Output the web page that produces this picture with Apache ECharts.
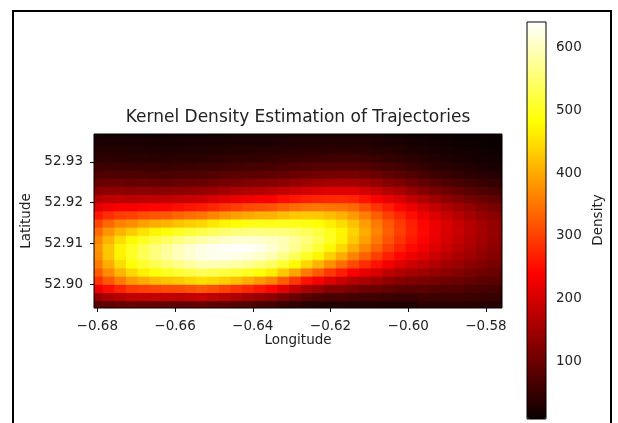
<!DOCTYPE html>
<html><head><meta charset="utf-8">
<script src="https://cdn.jsdelivr.net/npm/echarts@6/dist/echarts.min.js"></script>
<style>html,body{margin:0;padding:0;background:#fff}#c{width:618px;height:423px}</style>
</head><body><div id="c"></div>
<script>
// Cell centres of the density grid
const lonCenters = [-0.680,-0.677,-0.674,-0.671,-0.668,-0.665,-0.662,-0.659,-0.656,-0.653,-0.650,-0.647,-0.644,-0.641,-0.638,-0.635,-0.632,-0.629,-0.626,-0.623,-0.620,-0.617,-0.614,-0.611,-0.608,-0.605,-0.602,-0.599,-0.596,-0.593,-0.590,-0.587,-0.584,-0.581,-0.578,-0.575];
const latCenters = [52.895,52.897,52.899,52.901,52.903,52.905,52.907,52.909,52.911,52.913,52.915,52.917,52.919,52.921,52.923,52.925,52.927,52.929,52.931,52.933,52.935,52.937];
// Density: one list per longitude column, south -> north
const densityByLon = [
[83,142,223,286,326,355,373,378,366,340,306,261,212,167,127,96,72,55,41,32,24,19],
[90,158,250,323,370,403,424,427,410,378,337,283,226,175,132,98,74,56,42,31,24,18],
[95,170,273,356,410,447,469,471,448,410,361,297,233,178,133,98,72,55,41,31,23,18],
[100,181,294,385,442,483,505,503,475,431,372,302,234,173,129,94,70,52,38,29,22,17],
[97,182,300,400,465,510,535,533,502,454,389,313,240,178,130,95,70,52,38,29,22,17],
[96,182,306,414,485,532,559,558,523,472,402,320,244,179,129,94,69,51,37,28,21,16],
[94,182,309,423,500,550,579,577,541,486,410,324,244,178,128,92,68,50,36,27,20,15],
[91,179,310,431,513,567,598,597,559,502,424,335,252,184,132,95,70,51,38,28,21,16],
[94,183,317,441,526,582,613,612,573,515,434,343,259,188,135,97,72,53,38,29,22,16],
[96,187,324,450,536,593,625,624,584,525,442,350,264,192,138,99,73,54,39,29,22,16],
[90,179,314,443,531,593,630,632,596,538,458,365,276,202,144,105,77,56,41,31,23,17],
[85,170,301,433,523,590,629,637,605,549,472,378,288,210,151,110,81,58,43,32,24,18],
[80,162,288,419,513,584,625,638,611,556,483,390,297,218,158,114,83,61,44,33,25,19],
[75,151,274,403,500,574,618,637,612,561,492,399,307,226,165,118,86,63,46,34,26,19],
[69,141,258,384,484,559,607,629,609,562,495,406,313,232,169,121,88,64,47,35,26,20],
[62,130,242,363,464,541,591,615,602,558,494,409,318,236,172,124,90,65,48,35,27,20],
[53,113,214,327,430,512,566,595,594,556,498,420,331,249,182,130,94,69,51,37,28,20],
[45,96,185,291,395,477,537,571,578,549,496,427,341,260,190,136,98,73,53,38,29,22],
[37,82,159,255,355,441,505,543,559,537,491,431,348,268,198,143,103,76,55,40,30,22],
[34,73,143,230,324,408,471,513,533,521,482,427,352,273,205,148,106,78,56,42,30,22],
[31,66,126,207,291,373,436,477,500,498,465,417,350,276,209,152,109,78,58,42,31,23],
[35,68,123,188,265,341,401,442,468,471,447,405,347,277,211,154,110,80,59,43,31,23],
[33,62,111,169,236,307,363,403,429,439,422,385,337,272,209,154,111,81,59,43,31,23],
[32,59,104,157,217,280,330,367,390,402,388,357,314,256,198,147,106,76,56,41,30,22],
[32,59,99,147,200,255,299,332,353,364,354,328,289,237,183,136,98,70,51,37,27,20],
[30,55,92,134,179,230,268,298,318,328,323,299,265,218,169,125,90,65,47,34,24,18],
[29,52,86,124,165,208,243,270,288,298,295,275,244,203,157,117,83,60,43,31,23,17],
[29,51,84,117,155,192,222,246,261,270,268,249,221,182,140,104,74,52,38,27,20,14],
[38,58,83,113,147,179,206,225,239,246,244,226,200,165,126,93,66,47,34,24,17,12],
[38,56,79,108,138,166,189,206,218,224,222,206,182,148,113,83,59,41,30,21,15,11],
[39,56,78,103,130,154,174,189,199,205,203,187,165,134,102,74,52,37,26,19,13,10],
[38,55,75,98,122,143,160,173,182,187,185,171,150,121,92,66,46,32,23,17,12,8],
[38,53,71,92,113,131,147,158,165,170,168,155,136,109,82,59,41,29,21,15,10,7],
[37,51,67,87,105,121,135,144,151,155,153,141,123,99,74,52,36,25,18,13,9,7],
[36,49,64,82,98,112,123,132,138,141,139,129,112,90,67,48,33,23,16,12,8,6],
[33,45,59,75,90,102,113,121,126,129,128,118,103,82,62,44,30,21,15,11,8,5]
];
const xTicks = [-0.68,-0.66,-0.64,-0.62,-0.60,-0.58];
const yTicks = [52.90,52.91,52.92,52.93];
const densityTicks = [100,200,300,400,500,600];
const lonRange = [-0.68085,-0.57588];
const latRange = [52.89419,52.93684];
const densityRange = [8,641];
const titleText = 'Kernel Density Estimation of Trajectories';

const FONT = 'DejaVu Sans';
const TXT = '#222';
const FS = 13.5;

function hot(t){
  const r = Math.min(1, 0.0416 + (1-0.0416)*t/0.365079);
  const g = Math.max(0, Math.min(1, (t-0.365079)/(0.746032-0.365079)));
  const b = Math.max(0, Math.min(1, (t-0.746032)/(1-0.746032)));
  return 'rgb(' + Math.round(r*255) + ',' + Math.round(g*255) + ',' + Math.round(b*255) + ')';
}
const hotColors = [];
for (let k = 0; k <= 64; k++) hotColors.push(hot(k/64));

const cells = [];
for (let i = 0; i < lonCenters.length; i++)
  for (let j = 0; j < latCenters.length; j++)
    cells.push([lonCenters[i], latCenters[j], densityByLon[i][j]]);
const halfDx = (lonCenters[1]-lonCenters[0])/2;
const halfDy = (latCenters[1]-latCenters[0])/2;

const fmt = (v,d) => (v < 0 ? '\u2212' : '') + Math.abs(v).toFixed(d);

const chart = echarts.init(document.getElementById('c'), null, {renderer:'canvas'});
chart.setOption({
  animation: false,
  backgroundColor: '#fff',
  textStyle: {fontFamily: FONT},
  grid: [
    {left: 94, top: 134, width: 408, height: 174, show: true, borderColor: '#000', borderWidth: 1, backgroundColor: 'transparent', z: 10},
    {left: 527, top: 22, width: 19, height: 397, show: true, borderColor: '#000', borderWidth: 1, backgroundColor: 'transparent', z: 10}
  ],
  xAxis: [
    {type: 'value', gridIndex: 0, min: lonRange[0], max: lonRange[1],
     splitLine: {show: false},
     axisLine: {show: false},
     axisTick: {show: true, customValues: xTicks, length: 4, lineStyle: {color: '#000'}},
     axisLabel: {customValues: xTicks, formatter: v => fmt(v,2), fontSize: FS, color: TXT, margin: 11, fontFamily: FONT},
     name: 'Longitude', nameLocation: 'middle', nameGap: 24,
     nameTextStyle: {fontSize: FS, color: TXT, fontFamily: FONT}},
    {type: 'value', gridIndex: 1, show: false, min: 0, max: 1}
  ],
  yAxis: [
    {type: 'value', gridIndex: 0, min: latRange[0], max: latRange[1],
     splitLine: {show: false},
     axisLine: {show: false},
     axisTick: {show: true, customValues: yTicks, length: 4, lineStyle: {color: '#000'}},
     axisLabel: {customValues: yTicks, formatter: v => fmt(v,2), fontSize: FS, color: TXT, margin: 11, fontFamily: FONT},
     name: 'Latitude', nameLocation: 'middle', nameGap: 53,
     nameTextStyle: {fontSize: FS, color: TXT, fontFamily: FONT}},
    {type: 'value', gridIndex: 1, position: 'right', min: densityRange[0], max: densityRange[1],
     splitLine: {show: false},
     axisLine: {show: false},
     axisTick: {show: true, customValues: densityTicks, length: 4, lineStyle: {color: '#000'}},
     axisLabel: {customValues: densityTicks, fontSize: FS, color: TXT, margin: 10, fontFamily: FONT}}
  ],
  visualMap: {
    type: 'continuous', seriesIndex: 0, dimension: 2,
    min: densityRange[0], max: densityRange[1],
    calculable: false, show: true, orient: 'vertical',
    left: 527, top: 22, itemWidth: 19, itemHeight: 397, padding: 0,
    text: null, showLabel: false, hoverLink: false,
    inRange: {color: hotColors}
  },
  series: [{
    type: 'custom', xAxisIndex: 0, yAxisIndex: 0,
    encode: {x: 0, y: 1},
    data: cells,
    renderItem: function (params, api) {
      const x = api.value(0), y = api.value(1);
      const p0 = api.coord([x - halfDx, y + halfDy]);
      const p1 = api.coord([x + halfDx, y - halfDy]);
      const cs = params.coordSys;
      const rect = echarts.graphic.clipRectByRect(
        {x: p0[0] - 0.5, y: p0[1] - 0.5, width: p1[0] - p0[0] + 1, height: p1[1] - p0[1] + 1},
        {x: cs.x, y: cs.y, width: cs.width, height: cs.height});
      if (!rect) return null;
      return {type: 'rect', shape: rect, style: {fill: api.visual('color')}};
    }
  }],
  graphic: [
    {type: 'text', x: 298, y: 118, style: {text: titleText, font: '17px "DejaVu Sans"', fill: TXT, align: 'center', verticalAlign: 'middle'}},
    {type: 'text', x: 598, y: 220, rotation: Math.PI/2, style: {text: 'Density', font: FS + 'px "DejaVu Sans"', fill: TXT, align: 'center', verticalAlign: 'middle'}},
    {type: 'rect', shape: {x: 13, y: 11, width: 598, height: 440}, style: {fill: 'none', stroke: '#000', lineWidth: 2}, silent: true}
  ]
});
</script>
</body></html>
